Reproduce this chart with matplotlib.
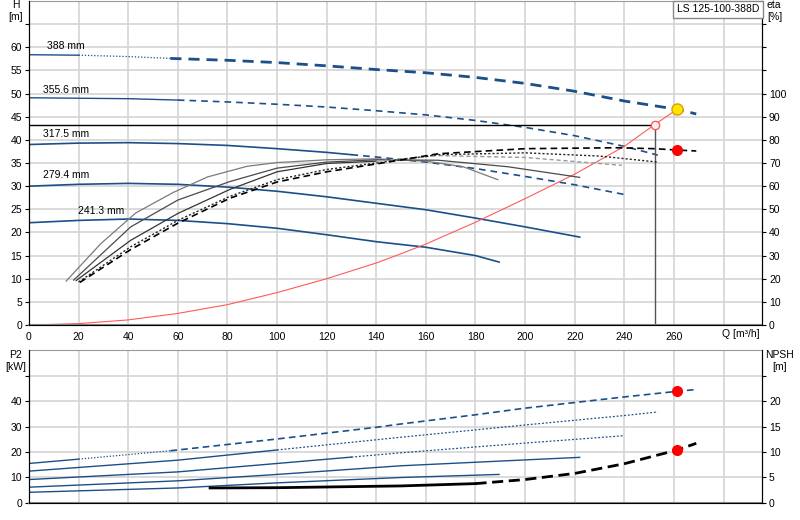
import numpy as np
import matplotlib
matplotlib.use("Agg")
import matplotlib.pyplot as plt

# --- datos ---
diametros = ["388 mm", "355.6 mm", "317.5 mm", "279.4 mm", "241.3 mm"]

# curvas H-Q [m]
q_388 = np.array([0, 20, 40, 57, 80, 100, 120, 140, 160, 180, 200, 220, 240, 261.3, 269])
h_388 = np.array([58.4, 58.3, 58.0, 57.6, 57.2, 56.7, 56.0, 55.2, 54.5, 53.5, 52.2, 50.5, 48.4, 46.6, 45.6])
q_356 = np.array([0, 20, 40, 60, 80, 100, 120, 140, 160, 180, 200, 220, 240, 253.5])
h_356 = np.array([49.1, 49.0, 48.9, 48.6, 48.2, 47.7, 47.1, 46.3, 45.4, 44.2, 42.7, 40.9, 38.6, 36.7])
q_318 = np.array([0, 20, 40, 60, 80, 100, 120, 130, 140, 160, 180, 200, 220, 240])
h_318 = np.array([39.0, 39.3, 39.4, 39.2, 38.8, 38.1, 37.3, 36.8, 36.3, 35.2, 33.8, 32.1, 30.3, 28.2])
q_279 = np.array([0, 20, 40, 60, 80, 100, 120, 140, 160, 180, 200, 222])
h_279 = np.array([30.0, 30.4, 30.6, 30.4, 29.8, 28.9, 27.7, 26.3, 24.9, 23.1, 21.2, 19.0])
q_241 = np.array([0, 20, 40, 60, 80, 100, 120, 140, 160, 180, 189.5])
h_241 = np.array([22.1, 22.6, 22.9, 22.6, 21.9, 20.9, 19.5, 18.0, 16.8, 15.0, 13.6])

# curvas de rendimiento eta [%]
qe_241 = np.array([15, 29, 43, 58, 72, 88, 100, 120, 140, 160, 175, 189])
eta_241 = np.array([19.0, 35.2, 48.4, 57.2, 64.0, 68.6, 70.2, 71.4, 71.8, 70.8, 68.4, 62.8])
qe_279 = np.array([18, 41, 60, 81, 100, 120, 140, 165, 193, 222])
eta_279 = np.array([19.4, 42.4, 54.0, 62.0, 67.8, 70.4, 71.4, 71.2, 68.4, 63.8])
qe_318 = np.array([19, 41, 60, 81, 100, 120, 140, 165, 200, 239])
eta_318 = np.array([19.2, 36.6, 48.2, 58.6, 66.2, 69.8, 70.8, 73.2, 72.4, 69.0])
qe_356 = np.array([20, 41, 60, 81, 100, 120, 140, 165, 200, 230, 253.5])
eta_356 = np.array([18.6, 33.8, 45.2, 55.6, 62.8, 67.2, 70.0, 73.6, 74.4, 73.0, 70.4])
qe_388 = np.array([20.5, 41, 60, 81, 100, 120, 140, 165, 200, 237, 252, 261.5, 269])
eta_388 = np.array([18.4, 32.6, 44.0, 54.8, 61.8, 66.2, 69.6, 74.0, 76.2, 76.6, 76.2, 75.6, 75.2])

# curva del sistema
q_sis = np.array([0, 20, 40, 60, 80, 100, 120, 140, 150, 160, 180, 200, 220, 240, 252.2, 261.3])
h_sis = np.array([0, 0.3, 1.1, 2.5, 4.4, 7.0, 10.0, 13.4, 15.4, 17.5, 22.2, 27.3, 32.6, 38.6, 43.3, 46.6])

# punto de trabajo
q_op, h_op = 252.2, 43.3
q_pt, h_pt, eta_pt, p2_pt, npsh_pt = 261.3, 46.6, 75.6, 43.8, 10.4

# potencia P2 [kW]
qp_388 = np.array([0, 20, 57, 60, 100, 140, 150, 180, 200, 240, 261.3, 269])
p2_388 = np.array([15.5, 17.2, 20.5, 20.8, 25.1, 29.7, 31.0, 34.6, 37.2, 41.6, 43.8, 44.5])
qp_356 = np.array([0, 60, 100, 150, 200, 240, 253.5])
p2_356 = np.array([12.5, 16.8, 20.8, 25.8, 30.6, 34.3, 35.7])
qp_318 = np.array([0, 60, 100, 130, 150, 200, 240])
p2_318 = np.array([9.2, 12.2, 15.5, 18.0, 19.7, 23.5, 26.4])
qp_279 = np.array([0, 60, 100, 150, 200, 222])
p2_279 = np.array([6.2, 8.7, 11.2, 14.6, 16.9, 17.9])
qp_241 = np.array([0, 60, 100, 150, 189.5])
p2_241 = np.array([4.2, 5.9, 7.9, 10.0, 11.2])

# NPSH [m]
q_npsh = np.array([73, 100, 150, 180, 200, 220, 240, 261.3, 269])
npsh = np.array([2.95, 3.0, 3.35, 3.8, 4.6, 5.8, 7.7, 10.4, 11.7])

azul = "#1b4f8a"
rojo = "#ff5a5a"
fs = 7.5


def tramo(ax, q, v, lo, hi, **kw):
    m = (q >= lo) & (q <= hi)
    ax.plot(q[m], v[m], **kw)


plt.rcParams["font.family"] = ["Liberation Sans", "DejaVu Sans"]
plt.rcParams["font.size"] = fs

fig = plt.figure(figsize=(8, 5.2), dpi=100)
ax_h = fig.add_axes([0.03625, 0.375, 0.91625, 0.623])
ax_p = fig.add_axes([0.03625, 0.0327, 0.91625, 0.2942])

for ax in (ax_h, ax_p):
    ax.set_xlim(0, 295.5)
    ax.set_xticks(np.arange(0, 281, 20))
    ax.grid(True, color="#d4d4d4", lw=1.2)
    ax.set_axisbelow(True)
    ax.spines["left"].set_color("black")
    ax.spines["right"].set_color("black")
    ax.spines["top"].set_color("#999999")
    ax.spines["bottom"].set_color("#888888")
    ax.spines["bottom"].set_linewidth(1.5)
    ax.tick_params(axis="y", length=3, color="black", pad=2)

# --- panel superior: H ---
ax_h.set_ylim(0, 70)
ax_h.set_yticks(np.arange(0, 66, 5))
ax_h.set_yticklabels([str(v) for v in range(0, 61, 5)] + [""])
ax_h.set_xticklabels([str(v) for v in range(0, 261, 20)] + [""])
ax_h.tick_params(axis="x", length=0, pad=5)

tramo(ax_h, q_388, h_388, 0, 20, color=azul, lw=1.0)
tramo(ax_h, q_388, h_388, 20, 57, color=azul, lw=0.9, ls=(0, (1, 1.5)))
tramo(ax_h, q_388, h_388, 57, 270, color=azul, lw=2.0, ls=(0, (4, 2.5)))
tramo(ax_h, q_356, h_356, 0, 60, color=azul, lw=1.0)
tramo(ax_h, q_356, h_356, 60, 260, color=azul, lw=1.2, ls=(0, (4, 3)))
tramo(ax_h, q_318, h_318, 0, 130, color=azul, lw=1.2)
tramo(ax_h, q_318, h_318, 130, 260, color=azul, lw=1.2, ls=(0, (4, 3)))
ax_h.plot(q_279, h_279, color=azul, lw=1.2)
ax_h.plot(q_241, h_241, color=azul, lw=1.2)

etiquetas = [(7.3, 60.2), (5.6, 50.8), (5.6, 41.3), (5.6, 32.4), (19.8, 24.6)]
for txt, (x, y) in zip(diametros, etiquetas):
    ax_h.text(x, y, txt, fontsize=fs, va="center", ha="left")

# curva del sistema y punto de trabajo
ax_h.plot(q_sis, h_sis, color=rojo, lw=0.8)
ax_h.plot([0, q_op], [h_op, h_op], color="black", lw=1.0)
ax_h.plot([q_op, q_op], [0, h_op], color="#555555", lw=1.0)
ax_h.plot(q_op, h_op, "o", ms=6, mfc="#fff0f0", mec=rojo, mew=1.0, zorder=5)
ax_h.plot(q_pt, h_pt, "o", ms=8, mfc="#ffe600", mec="#e39a00", mew=1.0, zorder=6)

ax_h.text(279.5, -2.0, "Q [m³/h]", ha="left", va="center", fontsize=fs)

# rendimiento en eje derecho
ax_e = ax_h.twinx()
ax_e.set_ylim(0, 140)
ax_e.set_yticks(np.arange(0, 131, 10))
ax_e.set_yticklabels([str(v) for v in range(0, 101, 10)] + ["", "", ""])
ax_e.tick_params(axis="y", length=3, color="black", pad=2)
ax_e.spines["right"].set_color("black")
ax_e.spines["top"].set_visible(False)

ax_e.plot(qe_241, eta_241, color="#7a7a7a", lw=0.9)
ax_e.plot(qe_279, eta_279, color="#4a4a4a", lw=0.9)
tramo(ax_e, qe_318, eta_318, 0, 140, color="#333333", lw=0.9)
tramo(ax_e, qe_318, eta_318, 140, 260, color="#9a9a9a", lw=1.0, ls=(0, (3, 2)))
ax_e.plot(qe_356, eta_356, color="#222222", lw=1.0, ls=(0, (1.5, 1.5)))
ax_e.plot(qe_388, eta_388, color="black", lw=1.2, ls=(0, (4, 2.5)))
ax_e.plot(q_pt, eta_pt, "o", ms=7, color="red", zorder=6)

# --- panel inferior: P2 y NPSH ---
ax_p.set_ylim(0, 60)
ax_p.set_yticks(np.arange(0, 51, 10))
ax_p.set_yticklabels(["0", "10", "20", "30", "40", ""])
ax_p.tick_params(axis="x", length=0, labelbottom=False)

tramo(ax_p, qp_388, p2_388, 0, 20, color=azul, lw=1.0)
tramo(ax_p, qp_388, p2_388, 20, 57, color=azul, lw=0.9, ls=(0, (1, 1.5)))
tramo(ax_p, qp_388, p2_388, 57, 270, color=azul, lw=1.2, ls=(0, (4, 2.5)))
tramo(ax_p, qp_356, p2_356, 0, 100, color=azul, lw=1.0)
tramo(ax_p, qp_356, p2_356, 100, 260, color=azul, lw=0.9, ls=(0, (1.5, 1.5)))
tramo(ax_p, qp_318, p2_318, 0, 130, color=azul, lw=1.0)
tramo(ax_p, qp_318, p2_318, 130, 260, color=azul, lw=0.9, ls=(0, (1.5, 1.5)))
ax_p.plot(qp_279, p2_279, color=azul, lw=1.0)
ax_p.plot(qp_241, p2_241, color=azul, lw=1.0)
ax_p.plot(q_pt, p2_pt, "o", ms=7, color="red", zorder=6)

ax_n = ax_p.twinx()
ax_n.set_ylim(0, 30)
ax_n.set_yticks(np.arange(0, 26, 5))
ax_n.set_yticklabels(["0", "5", "10", "15", "20", ""])
ax_n.tick_params(axis="y", length=3, color="black", pad=2)
ax_n.spines["right"].set_color("black")
ax_n.spines["top"].set_visible(False)

tramo(ax_n, q_npsh, npsh, 0, 180, color="black", lw=2.0)
tramo(ax_n, q_npsh, npsh, 180, 270, color="black", lw=2.0, ls=(0, (4, 2)))
ax_n.plot(q_pt, npsh_pt, "o", ms=7, color="red", zorder=6)

# títulos de ejes
fig.text(16 / 800, 1 - 5.5 / 520, "H", ha="center", va="center", fontsize=fs)
fig.text(16 / 800, 1 - 17 / 520, "[m]", ha="center", va="center", fontsize=fs)
fig.text(774 / 800, 1 - 5.5 / 520, "eta", ha="center", va="center", fontsize=fs)
fig.text(775 / 800, 1 - 17 / 520, "[%]", ha="center", va="center", fontsize=fs)
fig.text(16 / 800, 1 - 355 / 520, "P2", ha="center", va="center", fontsize=fs)
fig.text(16 / 800, 1 - 367 / 520, "[kW]", ha="center", va="center", fontsize=fs)
fig.text(780 / 800, 1 - 355 / 520, "NPSH", ha="center", va="center", fontsize=fs)
fig.text(780 / 800, 1 - 367 / 520, "[m]", ha="center", va="center", fontsize=fs)

fig.text(718 / 800, 1 - 9.5 / 520, "LS 125-100-388D", ha="center", va="center", fontsize=fs,
         bbox=dict(boxstyle="square,pad=0.35", fc="white", ec="#888888", lw=1.0))

fig.savefig("out.png", dpi=100)
